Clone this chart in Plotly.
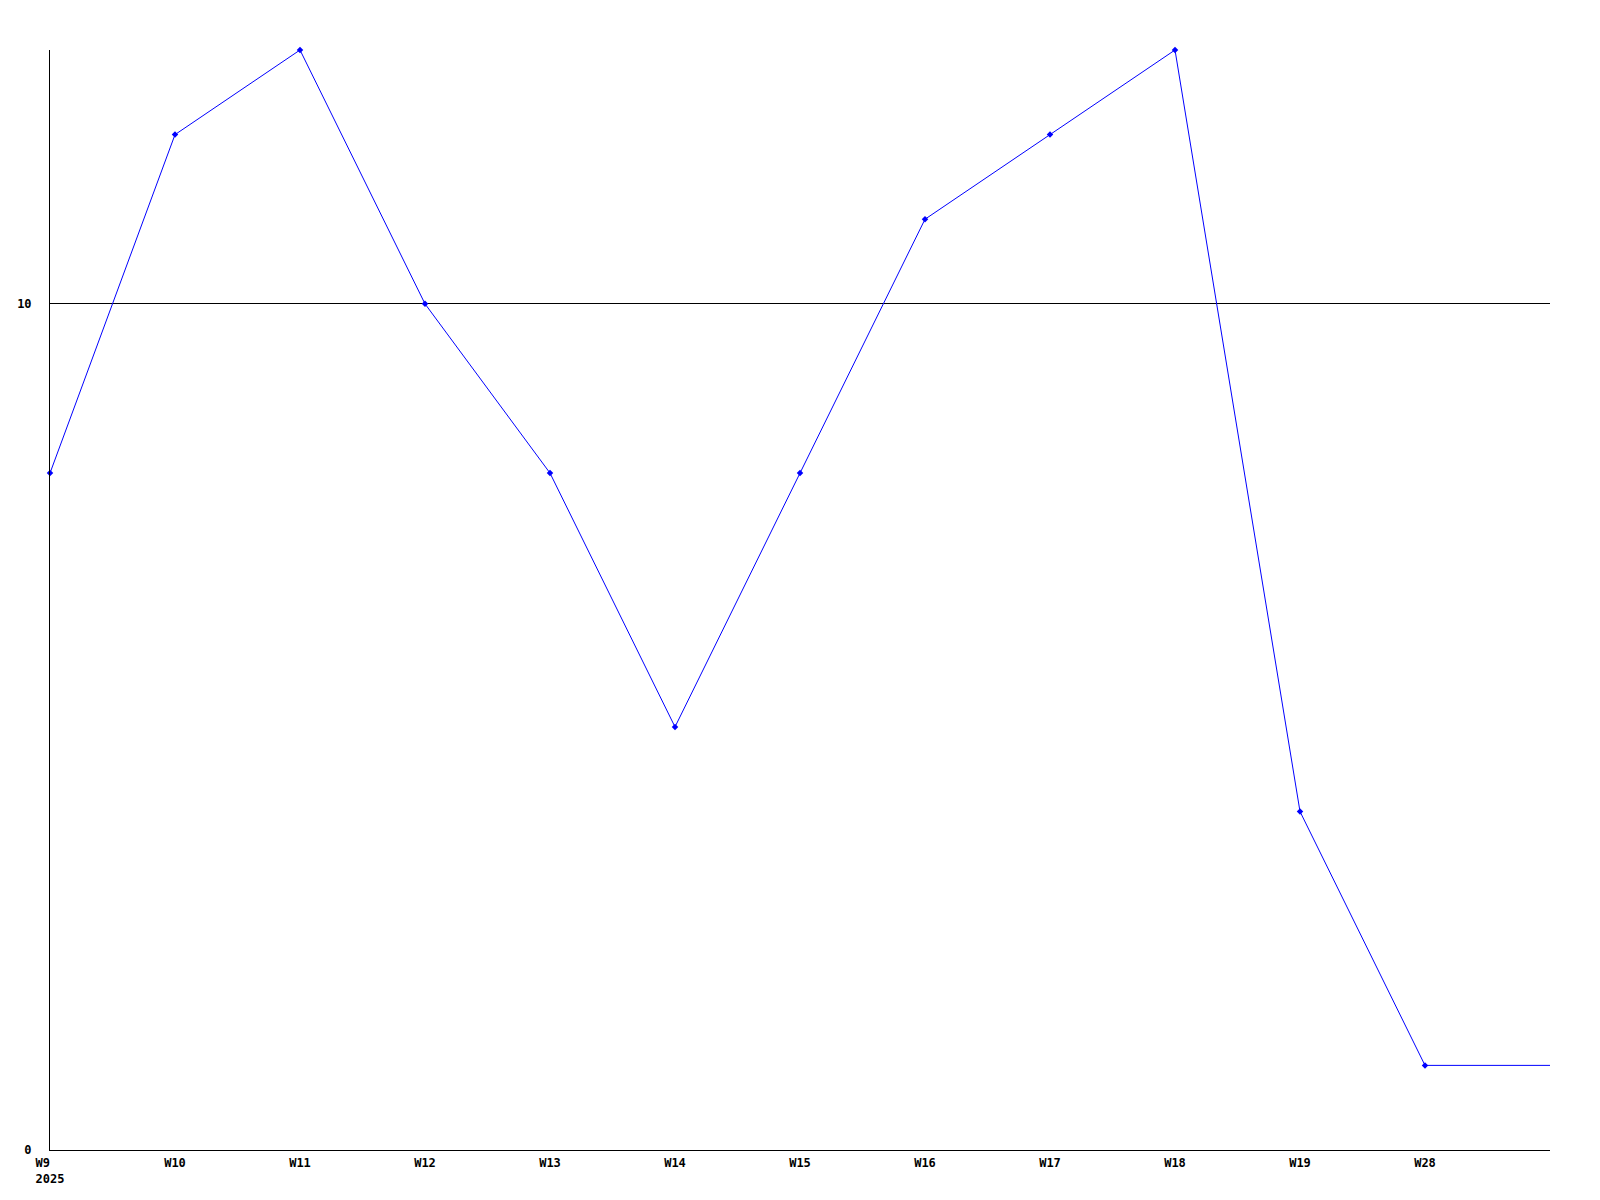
import plotly.graph_objects as go

weeks = ["W9\u00a0\u00a0<br>2025", "W10", "W11", "W12", "W13", "W14", "W15", "W16", "W17", "W18", "W19", "W28"]
values = [8, 12, 13, 10, 8, 5, 8, 11, 12, 13, 4, 1]
y_ticks = [0, 10]

x_idx = list(range(len(weeks)))
x_end = len(weeks)

fig = go.Figure()
fig.add_trace(go.Scatter(
    x=x_idx, y=values, mode="lines+markers",
    line=dict(color="#0000ff", width=1),
    marker=dict(symbol="diamond", size=5, color="#0000ff"),
    cliponaxis=False,
    hoverinfo="skip", showlegend=False,
))
# last value carried to the right edge
fig.add_trace(go.Scatter(
    x=[x_idx[-1], x_end], y=[values[-1], values[-1]], mode="lines",
    line=dict(color="#0000ff", width=1),
    hoverinfo="skip", showlegend=False,
))

fig.update_layout(
    width=1600, height=1200, autosize=False,
    margin=dict(l=42, r=58, t=42, b=58),
    paper_bgcolor="white", plot_bgcolor="white",
    font=dict(family="DejaVu Sans Mono", size=12, color="black", weight="bold"),
    showlegend=False,
)
fig.update_xaxes(
    range=[0, x_end], tickmode="array", tickvals=x_idx, ticktext=weeks,
    showgrid=False, zeroline=False, showline=True, linecolor="black", linewidth=1,
    ticks="", ticklabelstandoff=2, automargin=False,
)
fig.update_yaxes(
    range=[0, 13], tickmode="array", tickvals=y_ticks, ticktext=[str(v) for v in y_ticks],
    showgrid=True, gridcolor="black", gridwidth=1, zeroline=False,
    showline=True, linecolor="black", linewidth=1, ticks="", ticklabelstandoff=15,
    automargin=False,
)

fig.write_html("out.html")
